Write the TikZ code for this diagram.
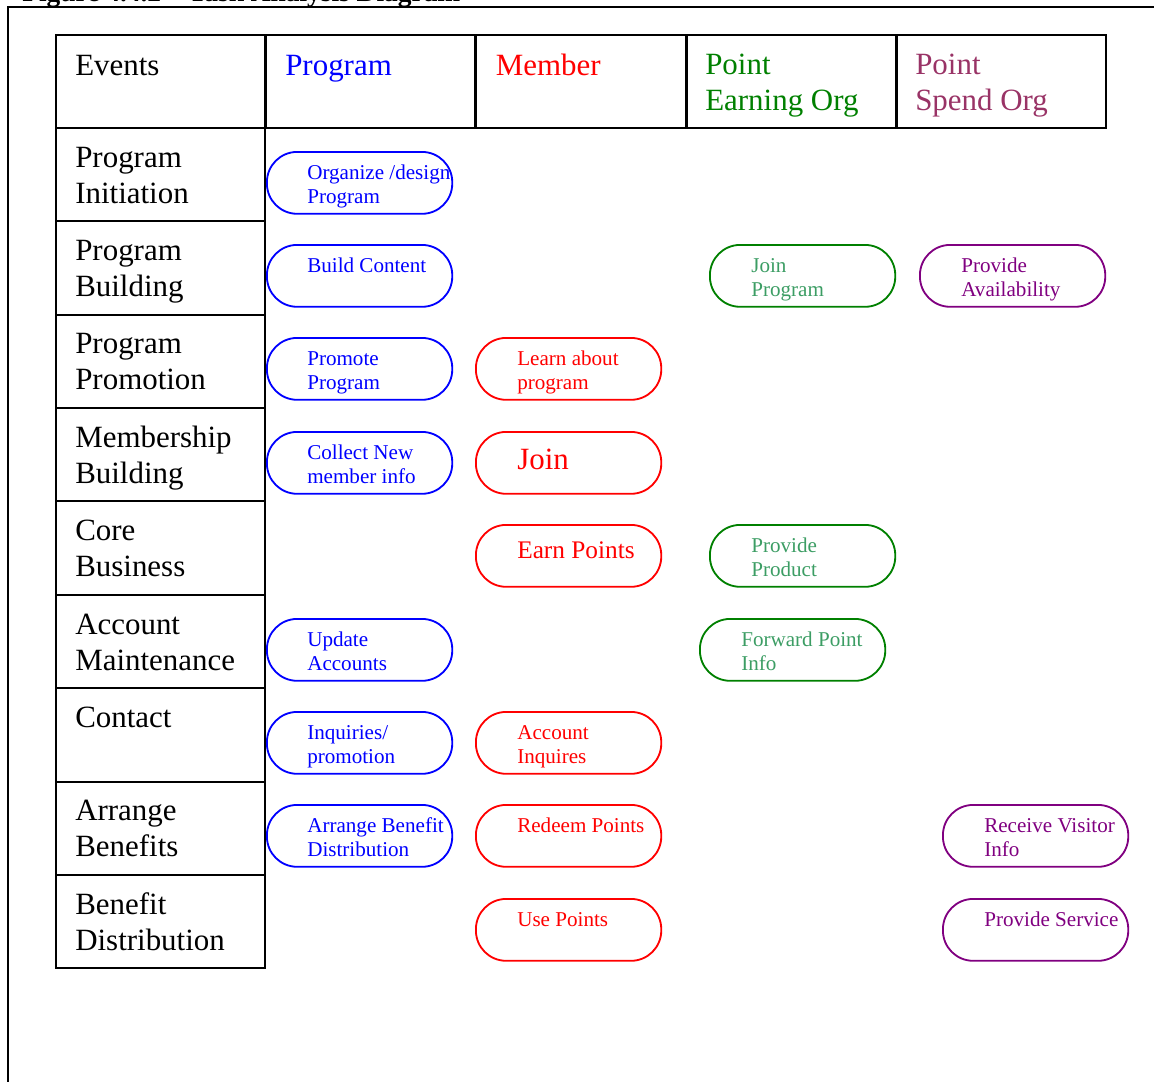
\documentclass[tikz,border=0pt]{standalone}
\usepackage{fontspec}
\setmainfont{Liberation Serif}
\usetikzlibrary{positioning,calc}
\definecolor{progblue}{HTML}{0000FF}
\definecolor{membred}{HTML}{FF0000}
\definecolor{earngreen}{HTML}{008000}
\definecolor{earntext}{HTML}{3C9D64}
\definecolor{spendhead}{HTML}{993366}
\definecolor{spendpurple}{HTML}{800080}
\begin{document}
\begin{tikzpicture}[x={(0.025cm,0)}, y={(0,-0.025cm)}]
  % Styles for the grid and the task pills
  \tikzset{cellbox/.style={draw, line width=1.3pt, anchor=north west, minimum width=148.8pt, minimum height=66.2pt, inner sep=0pt}}
  \tikzset{celltext/.style={anchor=base west, inner sep=0pt, align=left, font=\fontsize{22}{25.5}\selectfont}}
  \tikzset{pill/.style={draw=#1, line width=1.3pt, rounded corners=21.5pt, anchor=north west, minimum width=131.8pt, minimum height=44pt, inner sep=0pt}}
  \tikzset{tasktext/.style={text=#1, anchor=base west, inner sep=0pt, align=left, font=\fontsize{15}{17.4}\selectfont}}

  \useasboundingbox (0,0) rectangle (1154,1081);

  % Title and frame
  \node[anchor=base west, inner sep=0pt, font=\bfseries\fontsize{19.5}{22}\selectfont] (title) at (22,1.5) {Figure 4.4.2 – Task Analysis Diagram};
  \draw[line width=1.3pt] (8,1090) -- (8,7) -- (1160,7);

  % Header row (base anchor sits on the last line)
  \node[cellbox] (hEvents) at (55,34) {};
  \node[cellbox] (hProg) at (265,34) {};
  \node[cellbox] (hMemb) at (475.5,34) {};
  \node[cellbox] (hEarn) at (686,34) {};
  \node[cellbox] (hSpend) at (896,34) {};
  \node[celltext] (tEvents) at ($(hEvents.north west)+(20,41)$) {Events};
  \node[celltext, text=progblue] (tProg) at ($(hProg.north west)+(20,41)$) {Program};
  \node[celltext, text=membred] (tMemb) at ($(hMemb.north west)+(20,41)$) {Member};
  \node[celltext, text=earngreen] (tEarn) at ($(hEarn.north west)+(19,76)$) {Point\\Earning Org};
  \node[celltext, text=spendhead] (tSpend) at ($(hSpend.north west)+(19,76)$) {Point\\Spend Org};

  % Event rows
  \node[cellbox] (rInit) at (55,127) {};
  \node[cellbox] (rBuild) at (55,220.4) {};
  \node[cellbox] (rPromo) at (55,313.8) {};
  \node[cellbox] (rMember) at (55,407.2) {};
  \node[cellbox] (rCore) at (55,500.6) {};
  \node[cellbox] (rAcct) at (55,594) {};
  \node[cellbox] (rContact) at (55,687.4) {};
  \node[cellbox] (rArrange) at (55,780.8) {};
  \node[cellbox] (rDistrib) at (55,874.2) {};
  \node[celltext] (tInit) at ($(rInit.north west)+(20,76)$) {Program\\Initiation};
  \node[celltext] (tBuild) at ($(rBuild.north west)+(20,76)$) {Program\\Building};
  \node[celltext] (tPromo) at ($(rPromo.north west)+(20,76)$) {Program\\Promotion};
  \node[celltext] (tMember) at ($(rMember.north west)+(20,76)$) {Membership\\Building};
  \node[celltext] (tCore) at ($(rCore.north west)+(20,76)$) {Core\\Business};
  \node[celltext] (tAcct) at ($(rAcct.north west)+(20,76)$) {Account\\Maintenance};
  \node[celltext] (tContact) at ($(rContact.north west)+(20,40)$) {Contact};
  \node[celltext] (tArrange) at ($(rArrange.north west)+(20,76)$) {Arrange\\Benefits};
  \node[celltext] (tDistrib) at ($(rDistrib.north west)+(20,76)$) {Benefit\\Distribution};

  % Program tasks
  \node[pill=progblue] (orgProg) at (266,151) {};
  \node[tasktext=progblue] (orgProgT) at ($(orgProg.north west)+(41,52.5)$) {Organize /design\\Program};
  \node[pill=progblue] (buildCont) at (266,244) {};
  \node[tasktext=progblue] (buildContT) at ($(buildCont.north west)+(41,28)$) {Build Content};
  \node[pill=progblue] (promProg) at (266,337) {};
  \node[tasktext=progblue] (promProgT) at ($(promProg.north west)+(41,52.5)$) {Promote\\Program};
  \node[pill=progblue] (collInfo) at (266,431) {};
  \node[tasktext=progblue] (collInfoT) at ($(collInfo.north west)+(41,52.5)$) {Collect New\\member info};
  \node[pill=progblue] (updAcc) at (266,618) {};
  \node[tasktext=progblue] (updAccT) at ($(updAcc.north west)+(41,52.5)$) {Update\\Accounts};
  \node[pill=progblue] (inqProm) at (266,711) {};
  \node[tasktext=progblue] (inqPromT) at ($(inqProm.north west)+(41,52.5)$) {Inquiries/\\promotion};
  \node[pill=progblue] (arrDist) at (266,804) {};
  \node[tasktext=progblue] (arrDistT) at ($(arrDist.north west)+(41,52.5)$) {Arrange Benefit\\Distribution};

  % Member tasks
  \node[pill=membred] (learnProg) at (475,337) {};
  \node[tasktext=membred] (learnProgT) at ($(learnProg.north west)+(42,52.5)$) {Learn about\\program};
  \node[pill=membred] (joinMem) at (475,431) {};
  \node[tasktext=membred, font=\fontsize{22}{25}\selectfont] (joinMemT) at ($(joinMem.north west)+(42,38)$) {Join};
  \node[pill=membred] (earnPts) at (475,524) {};
  \node[tasktext=membred, font=\fontsize{18}{21}\selectfont] (earnPtsT) at ($(earnPts.north west)+(42,34)$) {Earn Points};
  \node[pill=membred] (accInq) at (475,711) {};
  \node[tasktext=membred] (accInqT) at ($(accInq.north west)+(42,52.5)$) {Account\\Inquires};
  \node[pill=membred] (redeemPts) at (475,804) {};
  \node[tasktext=membred] (redeemPtsT) at ($(redeemPts.north west)+(42,28)$) {Redeem Points};
  \node[pill=membred] (usePts) at (475,898) {};
  \node[tasktext=membred] (usePtsT) at ($(usePts.north west)+(42,28)$) {Use Points};

  % Point earning org tasks
  \node[pill=earngreen] (joinProg) at (709,244) {};
  \node[tasktext=earntext] (joinProgT) at ($(joinProg.north west)+(42,52.5)$) {Join\\Program};
  \node[pill=earngreen] (provProd) at (709,524) {};
  \node[tasktext=earntext] (provProdT) at ($(provProd.north west)+(42,52.5)$) {Provide\\Product};
  \node[pill=earngreen] (fwdInfo) at (699,618) {};
  \node[tasktext=earntext] (fwdInfoT) at ($(fwdInfo.north west)+(42,52.5)$) {Forward Point\\Info};

  % Point spend org tasks
  \node[pill=spendpurple] (provAvail) at (919,244) {};
  \node[tasktext=spendpurple] (provAvailT) at ($(provAvail.north west)+(42,52.5)$) {Provide\\Availability};
  \node[pill=spendpurple] (recvInfo) at (942,804) {};
  \node[tasktext=spendpurple] (recvInfoT) at ($(recvInfo.north west)+(42,52.5)$) {Receive Visitor\\Info};
  \node[pill=spendpurple] (provServ) at (942,898) {};
  \node[tasktext=spendpurple] (provServT) at ($(provServ.north west)+(42,28)$) {Provide Service};
\end{tikzpicture}
\end{document}
